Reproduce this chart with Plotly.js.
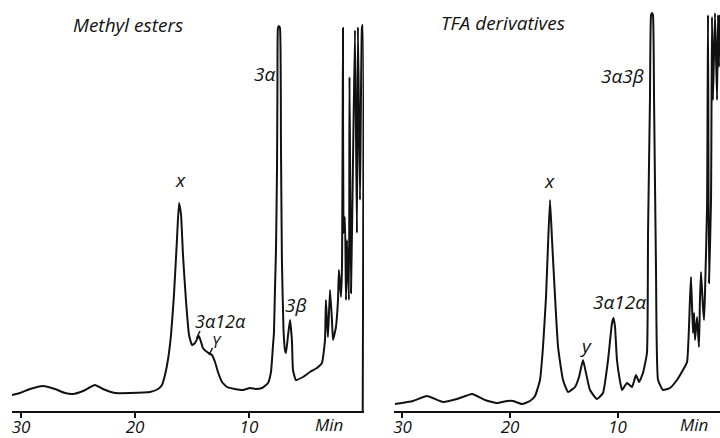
<!DOCTYPE html>
<html>
<head>
<meta charset="utf-8">
<script src="https://cdn.plot.ly/plotly-3.0.1.min.js"></script>
<style>html,body{margin:0;padding:0;background:#fff;}#chart{width:720px;height:438px;}</style>
</head>
<body>
<div id="chart"></div>
<script>
// Retention time (min) and detector signal (arbitrary units)
const esterTime = [30.79,30.09,29.21,28.07,27.02,26.14,25.44,24.56,23.51,22.81,21.75,20.44,18.68,17.98,17.63,17.37,17.11,16.84,16.58,16.32,16.14,15.96,15.79,15.53,15.26,15.00,14.74,14.39,14.04,13.68,13.25,12.98,12.72,12.37,11.93,11.23,10.53,9.91,9.39,8.86,8.33,8.07,7.89,7.81,7.72,7.63,7.54,7.50,7.46,7.37,7.28,7.19,7.11,6.97,6.84,6.75,6.58,6.40,6.23,6.14,5.88,5.26,4.65,4.04,3.60,3.33,3.25,3.16,3.07,2.89,2.72,2.63,2.37,2.19,2.11,1.93,1.84,1.75,1.71,1.58,1.49,1.40,1.23,1.18,1.05,0.88,0.70,0.53,0.44,0.26,0.09,0.02,0.02];
const esterSignal = [16,18,22,25,22,18,17,20,26,22,18,18,19,22,26,36,51,76,116,171,208,196,156,111,76,66,68,75,63,59,56,49,39,29,24,22,21,23,22,23,28,39,66,78,121,161,244,331,383,385,383,261,151,81,61,58,75,91,70,41,31,34,39,43,48,71,111,91,74,121,91,71,84,111,141,114,144,383,178,194,111,171,111,334,118,244,381,178,384,211,383,386,0];

const tfaTime = [30.70,29.02,27.72,26.23,24.93,23.53,22.33,21.21,20.28,19.72,18.88,18.14,17.67,17.21,16.93,16.65,16.47,16.28,16.09,15.81,15.53,15.07,14.60,13.95,13.58,13.21,12.93,12.56,11.91,11.35,10.88,10.51,10.37,10.23,10.05,9.77,9.58,9.12,8.65,8.28,8.00,7.63,7.26,7.16,6.98,6.88,6.79,6.70,6.60,6.42,6.23,5.77,5.12,4.47,3.91,3.53,3.26,3.16,2.98,2.88,2.79,2.60,2.42,2.33,2.23,2.05,1.95,1.86,1.67,1.58,1.49,1.30,1.21,1.12,0.93,0.74,0.65,0.56,0.47];
const tfaSignal = [7,10,15,9,12,17,11,8,10,10,7,10,15,31,64,114,164,211,171,114,64,31,19,24,34,51,38,21,12,18,51,88,93,84,51,30,21,28,24,36,29,38,58,178,311,396,398,396,311,144,31,21,23,31,41,49,111,134,78,98,71,94,64,111,139,104,91,118,204,396,128,211,394,311,398,311,396,344,396];

const tickVals = [30, 20, 10];
const tickText = ['30', '20', '10'];
const unitVals = [3.0, 2.88];
const unitLabel = 'Min';
const panelTitles = ['Methyl esters', 'TFA derivatives'];
const esterLabels = ['x', '3α', '3β', '3α12α', 'Y'];
const tfaLabels = ['x', 'y', '3α12α', '3α3β'];

const FONT = '"Open Sans", "DejaVu Sans", sans-serif';
const INK = '#111';

const traces = [
  {x: esterTime, y: esterSignal, xaxis: 'x', yaxis: 'y', type: 'scatter', mode: 'lines',
   line: {color: INK, width: 2, shape: 'spline', smoothing: 0.4}, hoverinfo: 'skip'},
  {x: tfaTime, y: tfaSignal, xaxis: 'x2', yaxis: 'y2', type: 'scatter', mode: 'lines',
   line: {color: INK, width: 2, shape: 'spline', smoothing: 0.4}, hoverinfo: 'skip'}
];

const tickFont = {family: FONT, size: 17, color: INK, style: 'italic'};

function xAxis(domain, range) {
  return {
    domain: domain, range: range, showgrid: false, zeroline: false,
    showline: true, linecolor: INK, linewidth: 2,
    ticks: 'outside', ticklen: 5, tickwidth: 2, tickcolor: INK,
    ticklabelstandoff: -5,
    tickvals: tickVals, ticktext: tickText,
    tickfont: tickFont, fixedrange: true
  };
}
function yAxis(anchor) {
  return {anchor: anchor, range: [0, 400], visible: false, fixedrange: true};
}

function lab(text, x, y, xr, yr, size, yanchor) {
  return {text: text, x: x, y: y, xref: xr, yref: yr, showarrow: false,
          xanchor: 'center', yanchor: yanchor || 'middle', borderpad: 0,
          font: {family: FONT, size: size || 19, color: INK, style: 'italic'}};
}

const annotations = [
  lab(panelTitles[0], 20.6, 386, 'x', 'y', 19),
  lab(panelTitles[1], 20.65, 388, 'x2', 'y2', 19),
  lab(esterLabels[0], 16.05, 231, 'x', 'y'),
  lab(esterLabels[1], 8.68, 337, 'x', 'y'),
  lab(esterLabels[2], 5.88, 106, 'x', 'y'),
  lab(esterLabels[3], 12.46, 90, 'x', 'y', 18),
  lab(esterLabels[4], 12.81, 69, 'x', 'y', 16),
  lab(tfaLabels[0], 16.28, 230, 'x2', 'y2'),
  lab(tfaLabels[1], 12.93, 65, 'x2', 'y2'),
  lab(tfaLabels[2], 9.86, 109, 'x2', 'y2'),
  lab(tfaLabels[3], 9.58, 335, 'x2', 'y2'),
  lab(unitLabel, unitVals[0], -26/400, 'x', 'paper', 17, 'bottom'),
  lab(unitLabel, unitVals[1], -26/400, 'x2', 'paper', 17, 'bottom')
];

const shapes = [
  {type: 'line', xref: 'x', yref: 'y', x0: 14.6, y0: 73, x1: 14.3, y1: 80, line: {color: INK, width: 1.5}},
  {type: 'line', xref: 'x', yref: 'y', x0: 13.5, y0: 56, x1: 13.2, y1: 63, line: {color: INK, width: 1.5}}
];

const layout = {
  width: 720, height: 438,
  margin: {l: 0, r: 0, t: 11, b: 27, pad: 0},
  paper_bgcolor: '#fff', plot_bgcolor: '#fff',
  showlegend: false,
  xaxis: xAxis([12/720, 364.1/720], [30.79, -0.1]),
  yaxis: yAxis('x'),
  xaxis2: xAxis([394/720, 1], [30.79, 0.465]),
  yaxis2: yAxis('x2'),
  annotations: annotations,
  shapes: shapes
};

Plotly.newPlot('chart', traces, layout, {displayModeBar: false, staticPlot: true});
</script>
</body>
</html>
